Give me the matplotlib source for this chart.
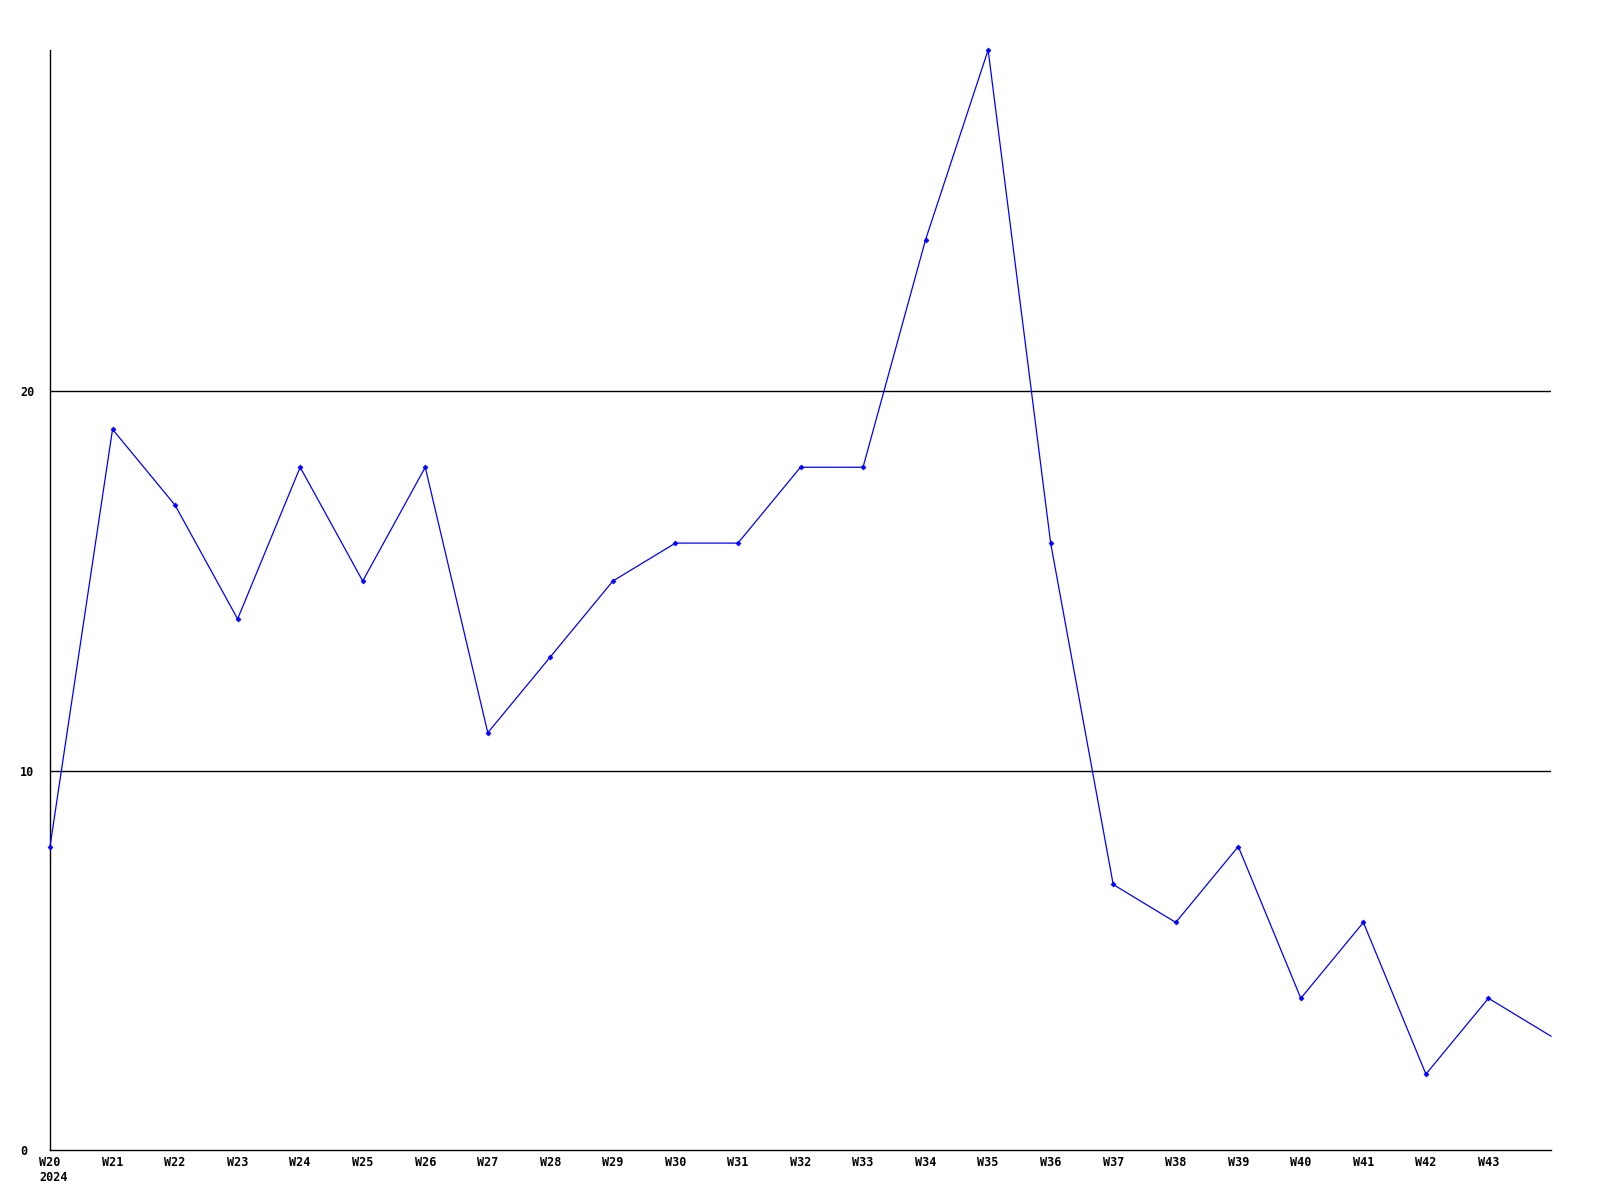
import matplotlib
matplotlib.use("Agg")
import matplotlib.pyplot as plt

weeks = ["W20", "W21", "W22", "W23", "W24", "W25", "W26", "W27", "W28", "W29",
         "W30", "W31", "W32", "W33", "W34", "W35", "W36", "W37", "W38", "W39",
         "W40", "W41", "W42", "W43", "W44"]
values = [8, 19, 17, 14, 18, 15, 18, 11, 13, 15, 16, 16, 18, 18, 24, 29, 16,
          7, 6, 8, 4, 6, 2, 4, 3]
tick_labels = weeks[:24]
year_label = "2024"
y_ticks = [0, 10, 20]

FS = 8.5
FONT = dict(fontfamily="DejaVu Sans Mono", fontweight="bold", fontsize=FS)

fig = plt.figure(figsize=(16, 12), dpi=100)
ax = fig.add_axes([50/1600, 1 - 1150/1200, 1501/1600, 1100/1200])
x = list(range(len(values)))
ax.plot(x, values, color="#0000ff", linewidth=0.9, marker="D", markersize=2.5,
        markeredgewidth=0.5, markevery=list(range(len(values) - 1)),
        clip_on=False, zorder=3)
for yv in y_ticks[1:]:
    ax.axhline(yv, color="black", linewidth=1.0, zorder=1)
ax.set_xlim(0, 24)
ax.set_ylim(0, 29)
ax.set_xticks(range(24))
ax.set_xticklabels(tick_labels, **FONT)
ax.set_yticks(y_ticks)
ax.set_yticklabels([str(v) for v in y_ticks], ha="left", **FONT)
ax.tick_params(axis="both", length=0)
ax.tick_params(axis="x", pad=4)
ax.tick_params(axis="y", pad=21.5)
half_w = 1.5 * 0.602 * FS
ax.annotate(year_label, xy=(0, 0), xycoords=ax.get_xaxis_transform(),
            xytext=(-half_w, -15), textcoords="offset points",
            ha="left", va="top", **FONT)
ax.spines["top"].set_visible(False)
ax.spines["right"].set_visible(False)
ax.spines["left"].set_linewidth(1.0)
ax.spines["bottom"].set_linewidth(1.0)
fig.savefig("out.png", dpi=100, facecolor="white")
